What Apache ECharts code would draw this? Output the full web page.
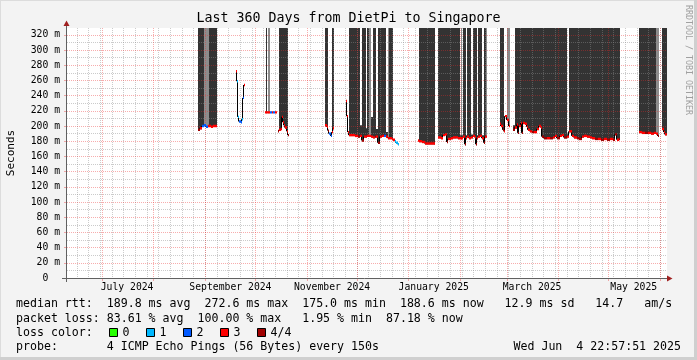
<!DOCTYPE html>
<html><head><meta charset="utf-8">
<script src="https://cdn.jsdelivr.net/npm/echarts@6/dist/echarts.min.js"></script>
<style>html,body{margin:0;padding:0;background:#f3f3f3}#c{width:697px;height:360px}</style>
</head><body><div id="c"></div>
<script>
// x values: days since Sun 2024-06-09 00:00 ; graph spans 360 days ending Wed Jun 4 2025 22:57:51
const rangeStart = 0.957;
const rangeEnd = 360.957;
const yMax = 329;
const yMajorTicks = [0,20,40,60,80,100,120,140,160,180,200,220,240,260,280,300,320];
const yMinorTicks = [10,30,50,70,90,110,130,150,170,190,210,230,250,270,290,310];
const monthStartDays = [22,53,84,114,145,175,206,237,265,296,326,357];
const monthLabelDays = [37,99,160,221,280,341];
const monthLabels = ['July 2024','September 2024','November 2024','January 2025','March 2025','May 2025'];
const sundayDays = [];
for (let d = 7; d <= 357; d += 7) sundayDays.push(d);

// rows: [startDay, median ms, loss (0..4 of 4), smoke top ms (999 = off scale, null = none), shade (0 dark, 1 light)]
// each row lasts until the next row's start; a row with null median ends the run
const runAug24 = [
  [79.56,195,4,999,0],[80.76,197,3,999,0],[81.96,200,2,999,0],[83.16,201,2,999,1],[84.36,199,2,999,1],
  [85.56,200,3,999,1],[86.16,200,3,999,0],[87.36,199,3,999,0],[88.56,200,3,999,0],[89.76,200,3,999,0],[90.96,null]
];
const runSep24 = [
  [102.36,272,3,null,0],[102.96,259,1,null,0],[103.56,212,1,null,0],[104.16,206,2,null,0],[105.06,205,2,null,0],
  [105.96,209,1,null,0],[106.56,237,2,null,0],[107.16,254,3,null,0],[107.76,null]
];
const runOct24a = [
  [119.76,218,3,null,0],[120.36,218,3,999,0],[121.14,218,3,null,0],[121.74,218,3,999,1],[122.76,218,2,null,0],
  [123.78,218,3,null,0],[124.74,218,2,null,0],[125.76,218,3,null,0],[126.66,null]
];
const runOct24b = [
  [127.56,193,4,null,0],[128.16,195,3,999,0],[129.06,196,3,999,0],[129.66,212,3,999,0],[130.26,205,3,999,0],
  [130.86,201,3,999,0],[131.76,198,3,999,0],[132.66,193,3,999,0],[133.38,188,4,null,0],[133.98,null]
];
const runNov24 = [
  [155.76,201,3,999,0],[156.66,199,3,999,0],[157.74,194,4,null,0],[158.34,190,2,null,0],[159.06,187,2,null,0],
  [159.78,192,3,999,0],[160.56,197,3,999,0],[161.16,null]
];
const runDec24 = [
  [168.36,233,3,null,0],[168.96,213,3,null,0],[169.56,192,3,null,0],[170.34,188,3,999,0],[171.96,188,3,999,0],
  [173.76,187,3,999,0],[175.56,186,4,999,0],[176.76,187,3,201,0],[177.78,181,4,999,0],[178.86,186,3,999,0],
  [180.18,186,3,197,0],[180.78,187,3,999,0],[182.34,187,3,999,1],[183.18,186,3,212,0],[184.38,185,3,999,0],
  [185.46,186,4,999,0],[186.36,186,3,196,0],[187.38,178,4,999,0],[188.46,186,3,999,0],[189.66,187,3,999,0],
  [190.86,187,2,999,0],[191.76,187,2,999,0],[192.36,186,3,192,0],[193.38,184,3,999,1],[194.34,184,3,999,0],
  [195.66,183,3,999,0],[196.74,182,3,null,0],[197.46,180,1,null,0],[198.36,178,1,null,0],[199.26,176,1,null,0],[200.16,null]
];
const runJan25a = [
  [211.56,181,3,null,0],[212.16,180,3,999,0],[213.96,179,3,999,0],[215.76,177,3,999,0],[217.56,177,3,999,0],
  [219.36,177,3,999,0],[220.86,177,3,999,0],[221.76,null]
];
const runJan25b = [
  [223.74,185,3,999,0],[225.36,184,3,999,0],[226.74,188,3,999,0],[227.76,189,3,999,0],[228.78,179,4,999,0],
  [229.74,183,3,999,0],[231.06,184,3,999,0],[232.56,185,3,999,0],[234.06,185,3,999,0],[235.56,184,3,999,0],
  [236.76,184,3,188,0],[237.06,184,3,999,1],[237.54,184,3,188,0],[238.74,186,3,999,0],[239.64,176,4,999,0],
  [240.36,184,3,188,0],[241.14,186,3,999,0],[242.16,184,3,999,0],[243.18,185,3,189,0],[244.26,187,3,999,0],
  [245.46,185,3,999,0],[246.18,176,4,999,0],[246.78,184,3,188,0],[247.38,186,3,999,0],[248.76,187,3,999,0],
  [250.14,184,3,188,0],[250.86,178,4,999,0],[251.76,186,3,999,0],[252.36,186,3,999,1],[252.96,null]
];
const runFeb25 = [
  [260.46,203,3,999,0],[261.36,200,3,999,0],[262.26,195,4,999,0],[263.16,193,3,null,0],[263.94,213,3,null,0],
  [264.96,208,3,999,1],[265.86,200,3,999,1],[266.94,null]
];
const runMar25 = [
  [268.74,195,4,201,0],[269.76,198,3,999,0],[270.96,202,3,999,0],[271.74,191,4,999,0],[272.34,200,3,999,0],
  [273.36,204,3,999,0],[273.78,191,4,999,0],[274.38,204,3,999,0],[275.46,203,3,999,0],[276.66,199,3,999,0],
  [277.74,195,3,999,0],[278.76,193,3,999,0],[279.96,192,4,999,0],[281.16,192,3,999,0],[282.78,196,3,999,0],
  [283.86,200,3,999,0],[285.06,198,3,999,0],[285.96,186,4,999,0],[287.16,184,4,999,0],[288.96,184,3,999,0],
  [290.76,184,4,999,0],[292.56,185,3,999,0],[293.76,187,3,999,0],[294.96,184,4,999,0],[296.76,187,3,999,0],
  [297.96,188,3,999,0],[299.16,185,4,999,0],[300.78,186,3,190,0],[302.16,193,3,999,0],[303.78,187,3,999,0],
  [305.16,185,3,999,0],[306.78,184,4,999,0],[308.16,183,4,999,0],[309.78,186,3,999,0],[311.16,187,3,999,0],
  [312.96,186,3,999,0],[314.76,185,3,999,0],[315.96,184,3,999,0],[317.76,183,4,999,0],[319.56,183,3,999,0],
  [321.36,182,4,999,0],[323.16,183,3,999,0],[324.96,182,4,999,0],[326.76,183,3,999,0],[328.56,182,4,999,0],
  [329.76,189,4,999,0],[330.78,182,3,999,0],[331.86,183,4,999,0],[332.76,null]
];
const runMay25a = [
  [344.16,192,3,999,0],[345.96,191,3,999,0],[347.76,191,4,999,0],[349.56,191,3,999,0],[351.36,190,3,999,0],
  [353.16,191,3,999,0],[354.18,190,3,999,1],[355.26,187,4,999,1],[356.34,null]
];
const runMay25b = [
  [357.78,196,3,999,0],[358.86,192,3,999,0],[359.76,189,3,999,0],[360.66,null]
];

// statistics legend texts
const medianRttLine = 'median rtt:  189.8 ms avg  272.6 ms max  175.0 ms min  188.6 ms now   12.9 ms sd   14.7   am/s';
const packetLossLine = 'packet loss: 83.61 % avg  100.00 % max   1.95 % min  87.18 % now';
const probeLine = 'probe:       4 ICMP Echo Pings (56 Bytes) every 150s';
const dateLine = 'Wed Jun  4 22:57:51 2025';
const lossLegend = ['0', '1', '2', '3', '4/4'];

const runs = [runAug24, runSep24, runOct24a, runOct24b, runNov24, runDec24, runJan25a, runJan25b, runFeb25, runMar25, runMay25a, runMay25b];
const lossColors = ['#26ff00','#00b8ff','#0059ff','#ff0000','#a00000'];
const smokeColors = ['#333333','#8c8c8c'];

const smokeData = [], medianData = [], connData = [];
runs.forEach(run => {
  for (let i = 0; i < run.length - 1; i++) {
    const r = run[i], n = run[i + 1];
    if (r[1] == null) continue;
    if (r[3] != null) smokeData.push([r[0], n[0], r[1] - 1.2, Math.min(r[3], yMax), r[4]]);
    medianData.push([r[0], n[0], r[1], r[2]]);
    if (n[1] != null) connData.push([n[0], r[1], n[1]]);
  }
});

const chart = echarts.init(document.getElementById('c'), null, {renderer: 'canvas'});
const MONO = '"DejaVu Sans Mono", monospace';
const gridMinor = 'rgba(140,140,140,0.45)';
const gridMajor = 'rgba(235,40,40,0.38)';

const legendFont = '11.6px ' + MONO;
const txt = (text, x, y, extra) => Object.assign({type: 'text', x: x, y: y, silent: true,
  style: Object.assign({text: text, font: legendFont, fill: '#000', align: 'left', verticalAlign: 'middle'}, (extra || {}))});

const graphics = [
  // frame
  {type: 'rect', shape: {x: 0, y: 0, width: 697, height: 1}, style: {fill: '#dcdcdc'}, silent: true},
  {type: 'rect', shape: {x: 0, y: 0, width: 1, height: 360}, style: {fill: '#dcdcdc'}, silent: true},
  {type: 'rect', shape: {x: 694, y: 0, width: 3, height: 360}, style: {fill: '#cfcfcf'}, silent: true},
  {type: 'rect', shape: {x: 0, y: 357, width: 697, height: 3}, style: {fill: '#cfcfcf'}, silent: true},
  // title
  {type: 'text', x: 348.5, y: 19, style: {text: 'Last 360 Days from DietPi to Singapore', font: '13.3px ' + MONO, fill: '#000', align: 'center', verticalAlign: 'middle'}},
  // y name
  {type: 'text', x: 11, y: 153, rotation: Math.PI / 2, style: {text: 'Seconds', font: '11px ' + MONO, fill: '#000', align: 'center', verticalAlign: 'middle'}},
  // watermark
  {type: 'text', x: 688, y: 60, rotation: -Math.PI / 2, style: {text: 'RRDTOOL / TOBI OETIKER', font: '8.3px ' + MONO, fill: '#a0a0a0', align: 'center', verticalAlign: 'middle'}},
  // axis extensions and arrows
  {type: 'line', shape: {x1: 62, y1: 278.5, x2: 667, y2: 278.5}, style: {stroke: '#606060', lineWidth: 1}, z: 10},
  {type: 'line', shape: {x1: 66.5, y1: 282, x2: 66.5, y2: 25}, style: {stroke: '#606060', lineWidth: 1}, z: 10},
  {type: 'polygon', shape: {points: [[63.5, 26], [69.5, 26], [66.5, 20.5]]}, style: {fill: '#a02020'}, z: 10},
  {type: 'polygon', shape: {points: [[667, 275.5], [667, 281.5], [672.5, 278.5]]}, style: {fill: '#a02020'}, z: 10},
  txt(medianRttLine, 16, 304),
  txt(packetLossLine, 16, 318.5),
  txt('loss color:', 16, 332.5),
  txt(probeLine, 16, 346.5),
  txt(dateLine, 681, 346.5, {align: 'right'})
];
lossLegend.forEach((t, i) => {
  const bx = 108.5 + 37.1 * i;
  graphics.push({type: 'rect', shape: {x: Math.round(bx) + 0.5, y: 328.5, width: 8, height: 8}, style: {fill: lossColors[i], stroke: '#000', lineWidth: 1}});
  graphics.push(txt(t, Math.round(bx) + 13.5, 332.5));
});

const xBase = {type: 'value', min: rangeStart, max: rangeEnd, gridIndex: 0, position: 'bottom'};
const yBase = {type: 'value', min: 0, max: yMax, gridIndex: 0, position: 'left'};

chart.setOption({
  animation: false,
  backgroundColor: '#f3f3f3',
  grid: {left: 67, top: 28, width: 600, height: 250, show: true, backgroundColor: '#ffffff', borderWidth: 0},
  xAxis: [
    Object.assign({}, xBase, {
      z: 3,
      axisLine: {show: false},
      axisTick: {show: true, customValues: monthStartDays, length: 3, lineStyle: {color: gridMajor}},
      axisLabel: {show: true, customValues: monthLabelDays, margin: 4, color: '#000', fontFamily: '"DejaVu Sans Mono"', fontSize: 9.75,
        formatter: v => { const i = monthLabelDays.findIndex(d => Math.abs(d - v) < 0.01); return i >= 0 ? monthLabels[i] : ''; }},
      splitLine: {show: true, lineStyle: {color: gridMajor, width: 1, type: [1, 1]}}
    }),
    Object.assign({}, xBase, {
      z: 2.5,
      axisLine: {show: false},
      axisTick: {show: false, customValues: sundayDays},
      axisLabel: {show: false},
      splitLine: {show: true, lineStyle: {color: gridMinor, width: 1, type: [1, 1]}}
    })
  ],
  yAxis: [
    Object.assign({}, yBase, {
      z: 3,
      axisLine: {show: false},
      axisTick: {show: true, customValues: yMajorTicks, length: 3, lineStyle: {color: gridMajor}},
      axisLabel: {show: true, customValues: yMajorTicks, margin: 7, color: '#000', fontFamily: '"DejaVu Sans Mono"', fontSize: 9.75,
        formatter: v => v === 0 ? '0  ' : v + ' m'},
      splitLine: {show: true, lineStyle: {color: gridMajor, width: 1, type: [1, 1]}}
    }),
    Object.assign({}, yBase, {
      z: 2.5,
      axisLine: {show: false},
      axisTick: {show: false, customValues: yMinorTicks},
      axisLabel: {show: false},
      splitLine: {show: true, lineStyle: {color: gridMinor, width: 1, type: [1, 1]}}
    })
  ],
  series: [
    {
      type: 'custom', name: 'smoke', xAxisIndex: 0, yAxisIndex: 0, z: 2, clip: true,
      encode: {x: [0, 1], y: [2, 3]},
      data: smokeData,
      renderItem: (params, api) => {
        const p0 = api.coord([api.value(0), api.value(3)]);
        const p1 = api.coord([api.value(1), api.value(2)]);
        const x0 = Math.round(p0[0]), x1 = Math.round(p1[0]);
        return {type: 'rect', shape: {x: x0, y: p0[1], width: Math.max(1, x1 - x0), height: p1[1] - p0[1]},
          style: {fill: smokeColors[api.value(4)]}};
      }
    },
    {
      type: 'custom', name: 'steps', xAxisIndex: 0, yAxisIndex: 0, z: 4, clip: true,
      encode: {x: 0, y: [1, 2]},
      data: connData,
      renderItem: (params, api) => {
        const a = api.coord([api.value(0), api.value(1)]);
        const b = api.coord([api.value(0), api.value(2)]);
        const x = Math.round(a[0]) - 0.5;
        return {type: 'line', shape: {x1: x, y1: a[1], x2: x, y2: b[1]}, style: {stroke: '#000', lineWidth: 1}};
      }
    },
    {
      type: 'custom', name: 'median', xAxisIndex: 0, yAxisIndex: 0, z: 5, clip: true,
      encode: {x: [0, 1], y: 2},
      data: medianData,
      renderItem: (params, api) => {
        const p0 = api.coord([api.value(0), api.value(2)]);
        const p1 = api.coord([api.value(1), api.value(2)]);
        const x0 = Math.round(p0[0]), x1 = Math.round(p1[0]);
        return {type: 'rect', shape: {x: x0, y: p0[1] - 1.2, width: Math.max(1, x1 - x0), height: 2.4},
          style: {fill: lossColors[api.value(3)]}};
      }
    }
  ],
  graphic: graphics
});
</script></body></html>
